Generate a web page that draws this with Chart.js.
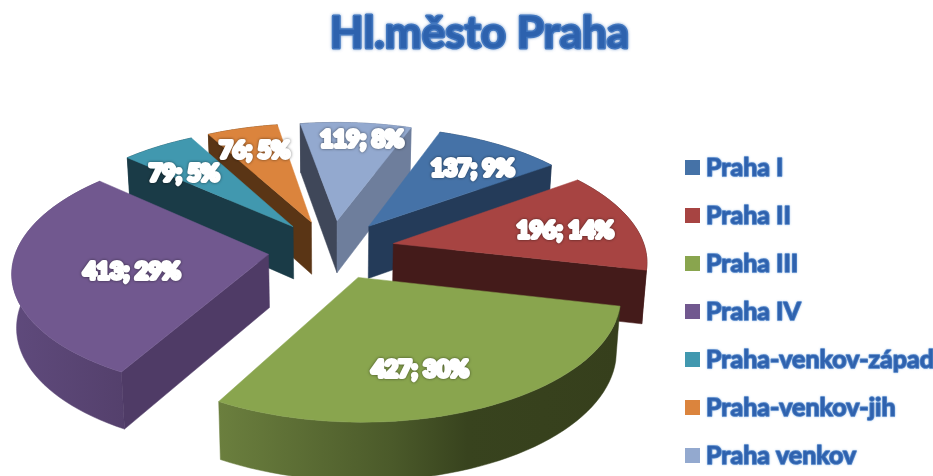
<!DOCTYPE html>
<html><head><meta charset="utf-8">
<style>html,body{margin:0;padding:0;background:#fff}#w{width:933px;height:476px}</style>
<script src="https://cdn.jsdelivr.net/npm/chart.js@4"></script>
</head><body><div id="w"><canvas id="c" width="933" height="476"></canvas></div>
<script>
const titleText = 'Hl.město Praha';
const categories = ['Praha I','Praha II','Praha III','Praha IV','Praha-venkov-západ','Praha-venkov-jih','Praha venkov'];
const values = [137,196,427,413,79,76,119];
const topColors = ['#4572A7','#A74442','#89A54E','#71588F','#4198AF','#DB843D','#93A9CF'];
const startFaceColors = ['#243B59','#441B1A','#38431E','#4F3B66','#1A3B47','#5A3515','#3F4759'];
const endFaceColors = ['#243B59','#441B1A','#38431E','#4F3B66','#1A3B47','#5A3515','#6E7E9C'];
const wallStops = [
  [[0,'#243B59'],[1,'#243B59']],
  [[0,'#441B1A'],[1,'#441B1A']],
  [[0,'#6B7F3E'],[0.43,'#4B5A2A'],[0.62,'#38431E'],[1,'#363F1C']],
  [[0,'#5F4A7C'],[1,'#54406C']],
  [[0,'#1A3B47'],[1,'#1A3B47']],
  [[0,'#5A3515'],[1,'#5A3515']],
  [[0,'#3F4759'],[1,'#6E7E9C']]
];
const labelNudges = [[16,-3],[16,2],[-15,11],[29,4],[-18,1],[-10,-8],[12,-15]];
const view = {cx:331.5, cy:249.4, rx:252, ry:118, k:0.13, depthA:23, depthB:30, inset:0.985, labelR:0.65};

function project(X, Y, low){
  const w = 1/(1 - view.k*Y);
  let sx = view.rx*X*w, sy = view.ry*Y*w;
  if(low){ sx *= view.inset; sy += view.depthA + view.depthB*w; }
  return [view.cx+sx, view.cy+sy];
}
function trace(ctx, pts){
  ctx.beginPath();
  pts.forEach((p,i)=> i ? ctx.lineTo(p[0],p[1]) : ctx.moveTo(p[0],p[1]));
  ctx.closePath();
}
function fillFace(ctx, pts, fill){
  trace(ctx, pts); ctx.fillStyle = fill; ctx.strokeStyle = fill; ctx.lineWidth = 0.5; ctx.fill(); ctx.stroke();
}
const pie3d = {
  id:'pie3d',
  afterInit(chart){
    const ctx = chart.ctx;
    const wrap = (box, paint) => {
      const d = box.draw;
      box.draw = function(a){
        const orig = ctx.fillText;
        ctx.fillText = function(t,x,y,m){ paint(t,x,y,orig.bind(ctx)); };
        d.call(box,a);
        ctx.fillText = orig;
      };
    };
    wrap(chart.legend, (t,x,y,fill)=>{
      const tx = x-6.5;
      ctx.save();
      ctx.lineJoin='round';
      ctx.shadowColor='rgba(120,165,220,0.7)'; ctx.shadowBlur=2;
      ctx.strokeStyle='#4F82C6'; ctx.lineWidth=1.7; ctx.strokeText(t,tx,y);
      ctx.shadowBlur=0;
      ctx.fillStyle='#2F62AE'; fill(t,tx,y);
      ctx.restore();
    });
    wrap(chart.titleBlock, (t,x,y,fill)=>{
      ctx.save();
      ctx.lineJoin='round';
      ctx.shadowColor='rgba(70,120,190,0.7)'; ctx.shadowBlur=3;
      ctx.strokeStyle='#4277BF'; ctx.lineWidth=3; ctx.strokeText(t,x,y);
      ctx.shadowBlur=0;
      const g=ctx.createLinearGradient(0,14,0,50);
      g.addColorStop(0,'#2D62AE'); g.addColorStop(0.6,'#1F55A3'); g.addColorStop(1,'#5A8CCB');
      ctx.fillStyle=g; fill(t,x,y);
      ctx.restore();
    });
  },
  afterLayout(chart){
    const L = chart.legend, T = chart.titleBlock;
    const w = L.width; L.left = 662; L.right = L.left + w;
    const h = L.bottom - L.top; L.top = 132; L.bottom = L.top + h;
    T.left += 13; T.right += 13;
  },
  beforeDatasetsDraw(chart){
    const ctx = chart.ctx, meta = chart.getDatasetMeta(0);
    const total = values.reduce((a,b)=>a+b,0);
    const items = meta.data.map((arc,i)=>{
      const p = arc.getProps(['startAngle','endAngle','outerRadius']);
      const mid = (p.startAngle+p.endAngle)/2;
      const e = arc.options.offset / p.outerRadius;
      return {i, s:p.startAngle, t:p.endAngle, mid, ex:Math.cos(mid)*e, ey:Math.sin(mid)*e};
    }).sort((a,b)=>a.ey-b.ey);
    ctx.save();
    for(const it of items){
      const pt = (a,r,low)=>project(it.ex+Math.cos(a)*r, it.ey+Math.sin(a)*r, low);
      const n = 48, up=[], dn=[];
      for(let j=0;j<=n;j++){
        const a = it.s+(it.t-it.s)*j/n;
        up.push(pt(a,1,false)); dn.push(pt(a,1,true));
      }
      const xs = up.concat(dn).map(q=>q[0]);
      const g = ctx.createLinearGradient(Math.min(...xs),0,Math.max(...xs),0);
      wallStops[it.i].forEach(s=>g.addColorStop(s[0],s[1]));
      fillFace(ctx, up.concat(dn.slice().reverse()), g);
      const a0=pt(0,0,false), a1=pt(0,0,true);
      if(up[0][0] < a0[0]) fillFace(ctx,[a0,up[0],dn[0],a1],startFaceColors[it.i]);
      if(up[n][0] > a0[0]) fillFace(ctx,[a0,up[n],dn[n],a1],endFaceColors[it.i]);
      fillFace(ctx,[a0].concat(up),topColors[it.i]);
    }
    ctx.font='bold 23px Lato'; ctx.textAlign='center'; ctx.textBaseline='middle'; ctx.lineJoin='round';
    for(const it of items){
      const q = project(it.ex+Math.cos(it.mid)*view.labelR, it.ey+Math.sin(it.mid)*view.labelR, false);
      const t = values[it.i]+'; '+Math.round(values[it.i]/total*100)+'%';
      const x=q[0]+labelNudges[it.i][0], y=q[1]+labelNudges[it.i][1];
      ctx.shadowColor='rgba(0,0,0,0.55)'; ctx.shadowBlur=3;
      ctx.strokeStyle='#fff'; ctx.lineWidth=4; ctx.strokeText(t,x,y);
      ctx.shadowBlur=0; ctx.fillStyle='#fff'; ctx.fillText(t,x,y);
    }
    ctx.restore();
    return false;
  }
};
new Chart(document.getElementById('c'),{
  type:'pie',
  data:{labels:categories,datasets:[{data:values,backgroundColor:topColors,borderWidth:0,offset:44,hoverOffset:0}]},
  options:{
    responsive:false,animation:false,rotation:20,events:[],
    plugins:{
      tooltip:{enabled:false},
      title:{display:true,text:titleText,font:{family:'Lato',size:44,weight:'bold'},padding:{top:7,bottom:23}},
      legend:{display:true,position:'right',align:'start',
        labels:{boxWidth:15,boxHeight:15,padding:23,font:{family:'Lato',size:25,weight:'bold'},color:'#2F62AE'}}
    }
  },
  plugins:[pie3d]
});
</script></body></html>
